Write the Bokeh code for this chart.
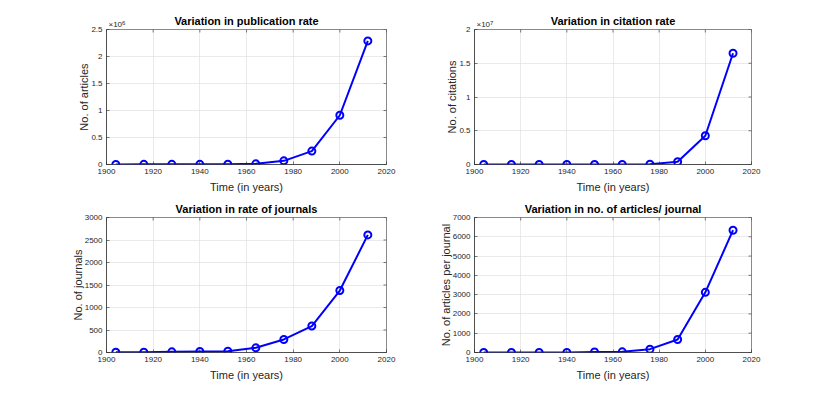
import math
from bokeh.plotting import figure
from bokeh.layouts import gridplot
from bokeh.models import Label, FixedTicker, CustomJSTickFormatter
from bokeh.embed import file_html
from bokeh.resources import INLINE

years = [1904, 1916, 1928, 1940, 1952, 1964, 1976, 1988, 2000, 2012]
articles = [2000, 2500, 3000, 3500, 5000, 12000, 68000, 248000, 912000, 2289000]
citations = [1000, 1000, 1000, 2000, 3000, 8000, 50000, 400000, 4260000, 16480000]
journals = [5, 8, 15, 22, 30, 104, 290, 588, 1377, 2613]
art_per_journal = [5, 5, 5, 6, 30, 35, 173, 676, 3118, 6341]

x_ticks = [1900, 1920, 1940, 1960, 1980, 2000, 2020]
y_ticks_articles = [0, 500000, 1000000, 1500000, 2000000, 2500000]
y_ticks_citations = [0, 5000000, 10000000, 15000000, 20000000]
y_ticks_journals = [0, 500, 1000, 1500, 2000, 2500, 3000]
y_ticks_apj = [0, 1000, 2000, 3000, 4000, 5000, 6000, 7000]

FONT = "Liberation Sans"
TXT = "#262626"


def style_axis(ax):
    ax.axis_line_color = TXT
    ax.axis_line_width = 0.6
    ax.major_tick_in = 3
    ax.major_tick_out = 0
    ax.minor_tick_line_color = None
    ax.major_tick_line_color = TXT
    ax.major_tick_line_width = 0.6
    ax.major_label_text_font = FONT
    ax.major_label_text_font_size = "8px"
    ax.major_label_text_color = TXT
    ax.axis_label_text_font = FONT
    ax.axis_label_text_font_size = "11px"
    ax.axis_label_text_font_style = "normal"
    ax.axis_label_text_color = TXT


def make(title, ylabel, ys, yticks, width, height, bl, br, bt, bb, tstand, exp=None):
    p = figure(width=width, height=height, x_range=(1900, 2020),
               y_range=(0, yticks[-1]), output_backend="svg",
               toolbar_location=None, min_border_left=bl, min_border_right=br,
               min_border_top=bt, min_border_bottom=bb)
    p.title.text = title
    p.title.align = "center"
    p.title.text_font = FONT
    p.title.text_font_size = "11px"
    p.title.text_font_style = "bold"
    p.title.text_color = "#000000"
    p.title.standoff = tstand
    p.title.offset = 0
    p.outline_line_color = TXT
    p.outline_line_width = 0.6
    p.outline_line_alpha = 0.9
    style_axis(p.xaxis[0])
    style_axis(p.yaxis[0])
    p.xaxis.ticker = FixedTicker(ticks=x_ticks)
    p.yaxis.ticker = FixedTicker(ticks=yticks)
    p.xaxis.axis_label = "Time (in years)"
    p.yaxis.axis_label = ylabel
    p.xaxis.major_label_standoff = 4
    p.yaxis.major_label_standoff = 4
    p.xaxis.axis_label_standoff = 4
    p.yaxis.axis_label_standoff = -2
    if exp is not None:
        scale = 10 ** exp
        p.yaxis.formatter = CustomJSTickFormatter(
            args=dict(s=scale), code="return String(Math.round(tick / s * 100) / 100);")
    p.xgrid.ticker = FixedTicker(ticks=x_ticks)
    p.ygrid.ticker = FixedTicker(ticks=yticks)
    p.xgrid.grid_line_color = "#dcdcdc"
    p.ygrid.grid_line_color = "#dcdcdc"
    p.xgrid.grid_line_width = 0.6
    p.ygrid.grid_line_width = 0.6

    # MATLAB box ticks on the top and right edges (outer half clipped by the frame)
    p.scatter(x_ticks, [yticks[-1]] * len(x_ticks), marker="dash", size=6,
              angle=math.pi / 2, line_color=TXT, line_width=0.6)
    p.scatter([2020] * len(yticks), yticks, marker="dash", size=6,
              line_color=TXT, line_width=0.6)

    p.line(years, ys, line_color="#0000ff", line_width=2)
    p.scatter(years, ys, marker="circle", size=7, line_color="#0000ff",
              line_width=2, fill_color=None)

    if exp is not None:
        p.add_layout(Label(x=1900, y=yticks[-1], x_offset=2, y_offset=1,
                           text="\u00d710", text_font=FONT, text_font_size="8px",
                           text_color=TXT, text_baseline="bottom"), "right")
        p.add_layout(Label(x=1900, y=yticks[-1], x_offset=15.5, y_offset=5,
                           text=str(exp), text_font=FONT, text_font_size="6px",
                           text_color=TXT, text_baseline="bottom"), "right")
    return p


p1 = make("Variation in publication rate", "No. of articles", articles,
          y_ticks_articles, 415, 198, 106, 29, 29, 34, 5, exp=6)
p2 = make("Variation in citation rate", "No. of citations", citations,
          y_ticks_citations, 407, 198, 59, 71, 29, 34, 5, exp=7)
p3 = make("Variation in rate of journals", "No. of journals", journals,
          y_ticks_journals, 415, 190, 106, 29, 19, 36, 5)
p4 = make("Variation in no. of articles/ journal", "No. of articles per journal",
          art_per_journal, y_ticks_apj, 407, 190, 59, 71, 19, 36, 5)

grid = gridplot([[p1, p2], [p3, p4]], toolbar_location=None)

open("out.html", "w").write(file_html(grid, INLINE))
